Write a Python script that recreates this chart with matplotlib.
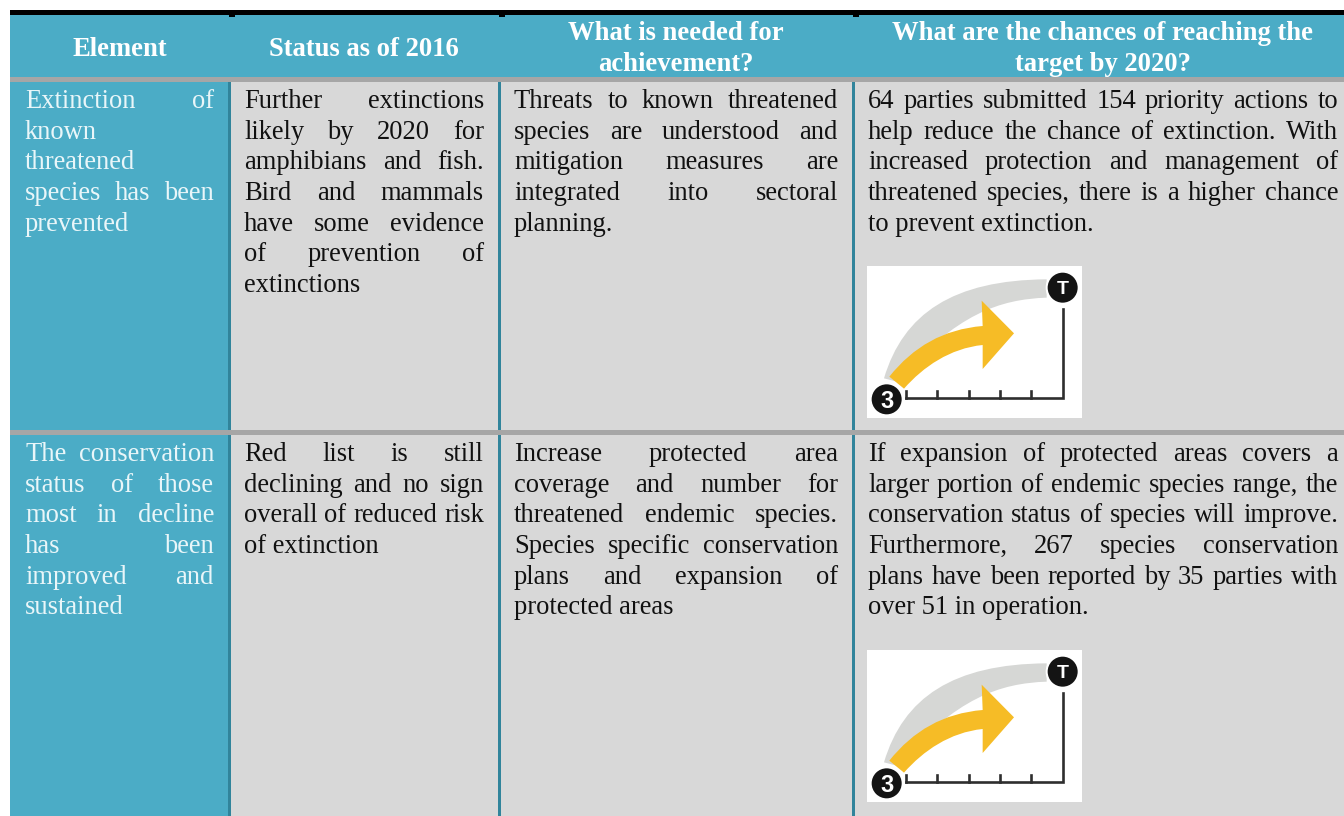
import matplotlib
matplotlib.use("Agg")
import matplotlib.pyplot as plt
from matplotlib.patches import Rectangle, Circle, PathPatch
from matplotlib.path import Path

plt.rcParams['font.family'] = ['Liberation Serif', 'DejaVu Serif']

W, H = 1344, 816
TEAL = '#4BACC6'
DARK = '#31849B'
CELL = '#D8D8D8'
RULE = '#A6A6A6'

headers = ["Element", "Status as of 2016", "What is needed for\nachievement?",
           "What are the chances of reaching the\ntarget by 2020?"]

row1_element = ["Extinction of", "known", "threatened", "species has been", "prevented"]
row1_status = ["Further extinctions", "likely by 2020 for", "amphibians and fish.",
               "Bird and mammals", "have some evidence", "of prevention of", "extinctions"]
row1_needed = ["Threats to known threatened", "species are understood and",
               "mitigation measures are", "integrated into sectoral", "planning."]
row1_chances = ["64 parties submitted 154 priority actions to",
                "help reduce the chance of extinction. With",
                "increased protection and management of",
                "threatened species, there is a higher chance",
                "to prevent extinction."]

row2_element = ["The conservation", "status of those", "most in decline",
                "has been", "improved and", "sustained"]
row2_status = ["Red list is still", "declining and no sign",
               "overall of reduced risk", "of extinction"]
row2_needed = ["Increase protected area", "coverage and number for",
               "threatened endemic species.", "Species specific conservation",
               "plans and expansion of", "protected areas"]
row2_chances = ["If expansion of protected areas covers a",
                "larger portion of endemic species range, the",
                "conservation status of species will improve.",
                "Furthermore, 267 species conservation",
                "plans have been reported by 35 parties with",
                "over 51 in operation."]

# left and right text edge of each column
col_text = [(25, 214), (244, 484), (514, 838), (868, 1338)]
col_fill = [(10, 228), (231, 498), (501, 852), (855, 1344)]
seps = [228, 498, 852]

fig = plt.figure(figsize=(W / 100, H / 100), dpi=100, facecolor='white')
ax = fig.add_axes([0, 0, 1, 1])
ax.set_xlim(0, W)
ax.set_ylim(H, 0)
ax.axis('off')


def box(x0, y0, x1, y1, color, z=1):
    ax.add_patch(Rectangle((x0, y0), x1 - x0, y1 - y0, fc=color, ec='none', lw=0, zorder=z))


def text_width(s, size):
    t = ax.text(0, 0, s, fontsize=size)
    w = t.get_window_extent(fig.canvas.get_renderer()).width
    t.remove()
    return w


def cell_text(lines, left, right, y, color, size=19.1, pitch=30.67):
    for n, line in enumerate(lines):
        base = y + n * pitch
        words = line.split()
        # last line of a paragraph is not justified
        if n == len(lines) - 1 or len(words) == 1:
            ax.text(left, base, line, fontsize=size, color=color, va='baseline', ha='left', zorder=5)
            continue
        widths = [text_width(w, size) for w in words]
        gap = (right - left - sum(widths)) / (len(words) - 1)
        x = left
        for w, wd in zip(words, widths):
            ax.text(x, base, w, fontsize=size, color=color, va='baseline', ha='left', zorder=5)
            x += wd + gap


def icon(x0, y0):
    # coordinates taken from the 3x crop, box corner at (21, 48)
    def p(zx, zy):
        return (x0 + (zx - 21) / 3, y0 + (zy - 48) / 3)

    box(x0, y0, x0 + 215, y0 + 152, 'white', 2)
    C4 = Path.CURVE4
    grey = Path([p(72, 385), p(130, 190), p(280, 90), p(560, 88), p(560, 143),
                 p(420, 148), p(290, 190), p(110, 395), p(72, 385)],
                [Path.MOVETO, C4, C4, C4, Path.LINETO, C4, C4, C4, Path.CLOSEPOLY])
    ax.add_patch(PathPatch(grey, fc='#D6D7D5', ec='none', zorder=3))
    arrow = Path([p(88, 380), p(160, 290), p(250, 238), p(368, 228), p(365, 152), p(462, 250),
                  p(368, 357), p(368, 285), p(270, 295), p(190, 350), p(132, 416), p(88, 380)],
                 [Path.MOVETO, C4, C4, C4, Path.LINETO, Path.LINETO, Path.LINETO, Path.LINETO,
                  C4, C4, C4, Path.CLOSEPOLY])
    ax.add_patch(PathPatch(arrow, fc='#F6BC26', ec='none', zorder=3))
    # little axis
    xs, ys = zip(p(138, 445), p(608, 445), p(608, 178))
    ax.plot(xs, ys, color='#2E2E2E', lw=1.9, solid_joinstyle='miter', zorder=3)
    for zx in [138, 232, 326, 420, 514]:
        xs, ys = zip(p(zx, 422), p(zx, 445))
        ax.plot(xs, ys, color='#2E2E2E', lw=1.9, zorder=3)
    for zx, zy, lab, fs in [(80, 448, '3', 17), (608, 113, 'T', 14)]:
        ax.add_patch(Circle(p(zx, zy), 17, fc='white', ec='none', zorder=4))
        ax.add_patch(Circle(p(zx, zy), 15, fc='#141414', ec='none', zorder=4))
        ax.text(*p(zx, zy), lab, fontsize=fs, color='white', fontweight='bold', family='Liberation Sans',
                ha='center', va='center_baseline', zorder=5)


# header and frame
box(10, 10, W, 15, 'black')
box(10, 15, W, 77, TEAL)
for s in seps:
    box(s + 1, 15, s + 7, 16.5, 'black', 2)

# body cells
box(col_fill[0][0], 82, col_fill[0][1], H, TEAL)
for x0, x1 in col_fill[1:]:
    box(x0, 82, x1, H, CELL)
for s in seps:
    box(s, 82, s + 3, H, DARK)
box(10, 77, W, 82, RULE, 2)
box(10, 430, W, 435, RULE, 2)

# header text
for (left, right), head in zip(col_text, headers):
    mid = (left + right) / 2
    lines = head.split("\n")
    bases = [56] if len(lines) == 1 else [40, 71]
    for line, b in zip(lines, bases):
        ax.text(mid, b, line, fontsize=19.2, color='white', fontweight='bold', ha='center', va='baseline', zorder=5)

row1 = [row1_element, row1_status, row1_needed, row1_chances]
row2 = [row2_element, row2_status, row2_needed, row2_chances]
for n, (left, right) in enumerate(col_text):
    color = '#E9F6F9' if n == 0 else '#111111'
    cell_text(row1[n], left, right, 108, color)
    cell_text(row2[n], left, right, 461, color)

icon(867, 266)
icon(867, 650)

fig.savefig("out.png", dpi=100, facecolor='white')
